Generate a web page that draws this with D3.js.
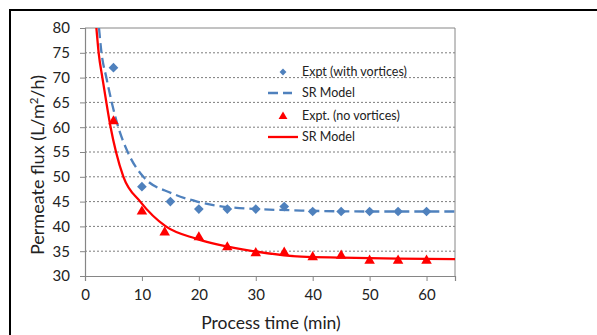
<!DOCTYPE html>
<html>
<head>
<meta charset="utf-8">
<script src="https://cdn.jsdelivr.net/npm/d3@7"></script>
<style>
  body { margin: 0; background: white; }
  svg { display: block; }
  text { font-family: Lato, "Open Sans", sans-serif; fill: #222; }
</style>
</head>
<body>
<div id="chart"></div>
<script>
const timeWith = [5, 10, 15, 20, 25, 30, 35, 40, 45, 50, 55, 60];
const fluxWith = [72, 48, 45, 43.5, 43.5, 43.5, 44, 43, 43, 43, 43, 43];

const timeNo = [5, 10, 14, 20, 25, 30, 35, 40, 45, 50, 55, 60];
const fluxNo = [61.3, 43.1, 38.9, 37.9, 35.9, 34.7, 34.8, 33.9, 34.2, 33.2, 33.2, 33.2];

// model curves (traced)
const modelWithT = [2.46, 2.9, 3.75, 4.7, 5.85, 7.5, 10.25, 15.2, 19.7, 26, 38, 50, 65];
const modelWithF = [80, 75, 70, 65, 60, 55, 50, 46.7, 45, 43.8, 43.2, 43.0, 43.0];

const modelNoT = [2.0, 2.4, 3.05, 3.75, 4.5, 5.45, 6.75, 9.7, 14.2, 19.6, 29.6, 38, 45, 55, 65];
const modelNoF = [80, 75, 70, 65, 60, 55, 50, 45, 40, 37.5, 35, 33.9, 33.7, 33.5, 33.4];

const xTicks = [0, 10, 20, 30, 40, 50, 60];
const yTicks = [30, 35, 40, 45, 50, 55, 60, 65, 70, 75, 80];

const legendLabels = ["Expt (with vortices)", "SR Model", "Expt. (no vortices)", "SR Model"];

const w = 597, h = 335;
const blue = "#4F81BD", red = "#FF0000", axisGrey = "#868686";

const svg = d3.select("#chart").append("svg")
  .attr("width", w).attr("height", h);

// outer frame (runs off the picture on right and bottom)
svg.append("rect")
  .attr("x", 10).attr("y", 10)
  .attr("width", 700).attr("height", 400)
  .attr("fill", "white").attr("stroke", "black").attr("stroke-width", 2);

const m = { left: 85, top: 28, right: 455, bottom: 276 };

const x = d3.scaleLinear().domain([0, 65]).range([m.left, m.right]);
const y = d3.scaleLinear().domain([30, 80]).range([m.bottom, m.top]);

// grid
svg.append("g")
  .selectAll("line")
  .data(yTicks.filter(d => d > 30 && d < 80))
  .join("line")
  .attr("x1", m.left).attr("x2", m.right)
  .attr("y1", d => y(d)).attr("y2", d => y(d))
  .attr("stroke", "#6e6e6e").attr("stroke-width", 0.9)
  .attr("stroke-dasharray", "2,2");

// plot frame top + right
svg.append("path")
  .attr("d", `M${m.left},${m.top}H${m.right}V${m.bottom}`)
  .attr("fill", "none").attr("stroke", axisGrey).attr("stroke-width", 1);

// axes
const xAxis = svg.append("g")
  .attr("transform", `translate(0,${m.bottom})`)
  .call(d3.axisBottom(x).tickValues(xTicks).tickSize(5).tickPadding(8));
const yAxis = svg.append("g")
  .attr("transform", `translate(${m.left},0)`)
  .call(d3.axisLeft(y).tickValues(yTicks).tickSize(5).tickPadding(10));

[xAxis, yAxis].forEach(g => {
  g.select(".domain").attr("stroke", axisGrey).attr("stroke-width", 1.2);
  g.selectAll(".tick line").attr("stroke", axisGrey);
  g.selectAll(".tick text")
    .attr("font-size", 15)
    .attr("font-family", "Lato, 'Open Sans', sans-serif")
    .attr("fill", "#222");
});

// clip for curves
svg.append("clipPath").attr("id", "plotclip")
  .append("rect")
  .attr("x", m.left).attr("y", m.top)
  .attr("width", m.right - m.left).attr("height", m.bottom - m.top);

const line = d3.line()
  .x(d => x(d[0]))
  .y(d => y(d[1]))
  .curve(d3.curveMonotoneX);

const plot = svg.append("g").attr("clip-path", "url(#plotclip)");

plot.append("path")
  .datum(d3.zip(modelWithT, modelWithF))
  .attr("d", line)
  .attr("fill", "none")
  .attr("stroke", blue)
  .attr("stroke-width", 2.3)
  .attr("stroke-dasharray", "10,5");

plot.append("path")
  .datum(d3.zip(modelNoT, modelNoF))
  .attr("d", line)
  .attr("fill", "none")
  .attr("stroke", red)
  .attr("stroke-width", 2.3);

const diamond = d3.symbol().type(d3.symbolDiamond2).size(60);
const triangle = d3.symbol().type(d3.symbolTriangle).size(48);

svg.append("g")
  .selectAll("path")
  .data(d3.zip(timeWith, fluxWith))
  .join("path")
  .attr("transform", d => `translate(${x(d[0])},${y(d[1])})`)
  .attr("d", diamond)
  .attr("fill", blue);

svg.append("g")
  .selectAll("path")
  .data(d3.zip(timeNo, fluxNo))
  .join("path")
  .attr("transform", d => `translate(${x(d[0])},${y(d[1]) + 0.5})`)
  .attr("d", triangle)
  .attr("fill", red);

// legend
const lg = svg.append("g").attr("transform", "translate(283,0)");
const rowY = [72, 93, 116, 137];

lg.append("path").attr("transform", `translate(0,${rowY[0]})`)
  .attr("d", d3.symbol().type(d3.symbolDiamond2).size(30)).attr("fill", blue);
lg.append("line")
  .attr("x1", -15).attr("x2", 9).attr("y1", rowY[1]).attr("y2", rowY[1])
  .attr("stroke", blue).attr("stroke-width", 2.3).attr("stroke-dasharray", "10,5");
lg.append("path").attr("transform", `translate(0,${rowY[2] + 0.5})`)
  .attr("d", d3.symbol().type(d3.symbolTriangle).size(34)).attr("fill", red);
lg.append("line")
  .attr("x1", -15).attr("x2", 15).attr("y1", rowY[3]).attr("y2", rowY[3])
  .attr("stroke", red).attr("stroke-width", 2.3);

lg.selectAll("text.lab")
  .data(legendLabels)
  .join("text")
  .attr("class", "lab")
  .attr("x", 19)
  .attr("y", (d, i) => rowY[i])
  .attr("dy", "0.35em")
  .attr("font-size", 12.5)
  .text(d => d);

// axis titles
svg.append("text")
  .attr("x", 271).attr("y", 329)
  .attr("text-anchor", "middle")
  .attr("font-size", 17.5)
  .text("Process time (min)");

const yt = svg.append("text")
  .attr("transform", `translate(44,165)rotate(-90)`)
  .attr("text-anchor", "middle")
  .attr("font-size", 18);
yt.append("tspan").text("Permeate flux (L/m");
yt.append("tspan").attr("font-size", 11.5).attr("dy", -6.5).text("2");
yt.append("tspan").attr("dy", 6.5).text("/h)");
</script>
</body>
</html>
